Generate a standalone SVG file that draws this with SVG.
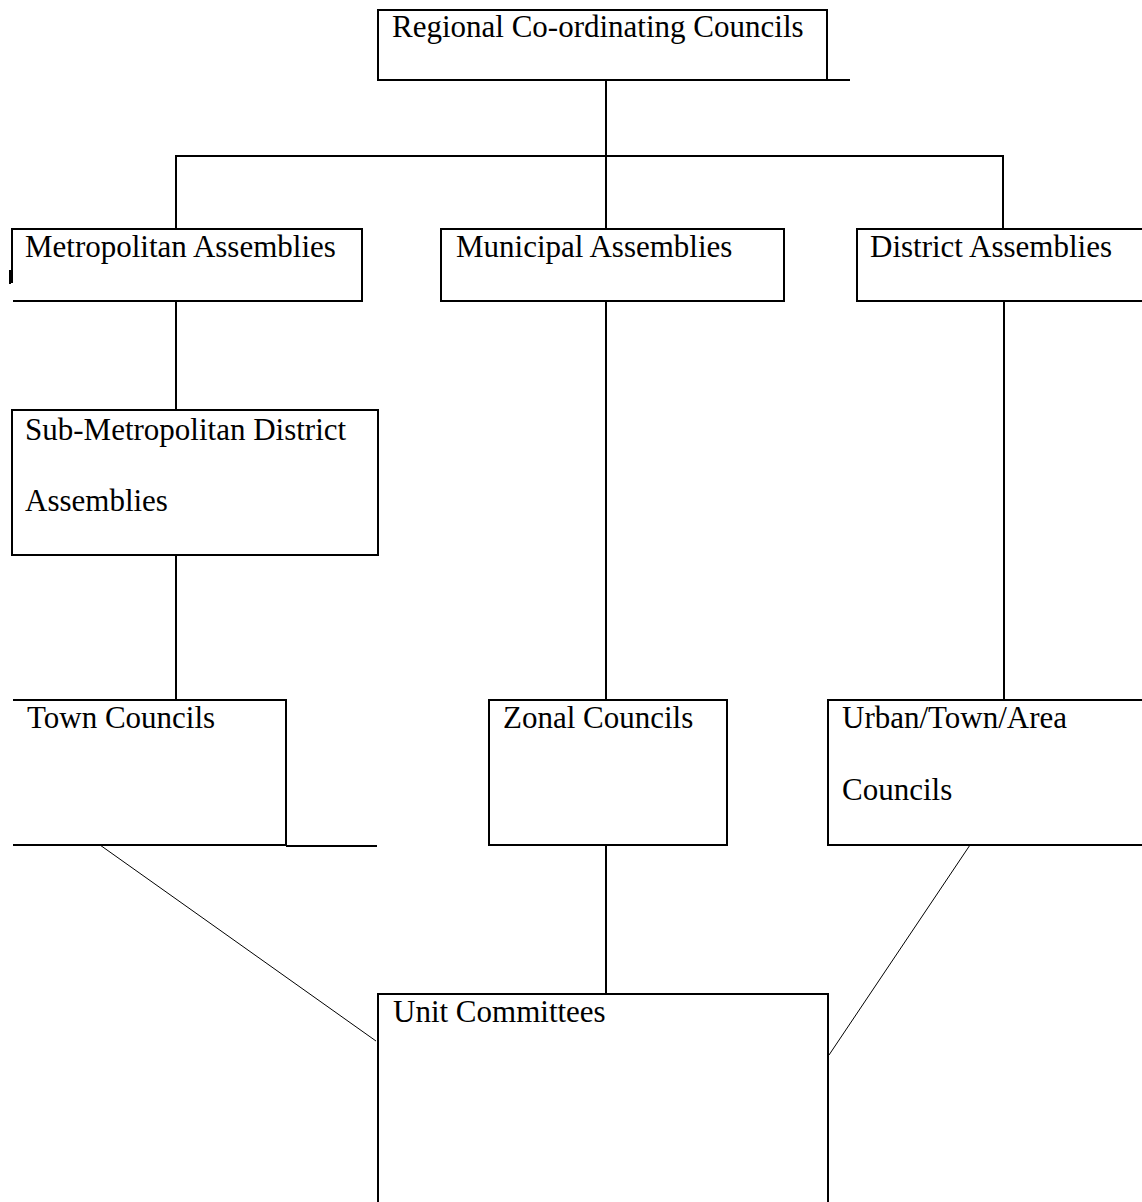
<svg xmlns="http://www.w3.org/2000/svg" width="1142" height="1202" viewBox="0 0 1142 1202">
<style>
.b{fill:none;stroke:#000;stroke-width:2}
.c{fill:none;stroke:#000;stroke-width:2}
.d{fill:none;stroke:#000;stroke-width:1}
text{font-family:"Liberation Serif","Times New Roman",serif;font-size:31px;fill:#000}
</style>
<rect width="1142" height="1202" fill="#fff"/>
<g id="connectors">
<line class="c" x1="606" y1="81" x2="606" y2="156"/>
<line class="c" x1="175" y1="156" x2="1004" y2="156"/>
<line class="c" x1="176" y1="155" x2="176" y2="229"/>
<line class="c" x1="606" y1="156" x2="606" y2="229"/>
<line class="c" x1="1003" y1="155" x2="1003" y2="229"/>
<line class="c" x1="176" y1="301" x2="176" y2="410"/>
<line class="c" x1="176" y1="555" x2="176" y2="700"/>
<line class="c" x1="606" y1="301" x2="606" y2="700"/>
<line class="c" x1="1004" y1="301" x2="1004" y2="700"/>
<line class="c" x1="606" y1="845" x2="606" y2="994"/>
<line class="d" x1="100" y1="845" x2="376" y2="1041"/>
<line class="d" x1="970" y1="845" x2="829" y2="1055"/>
</g>
<g id="regional">
<path class="b" d="M378 10 H827 V80 H378 Z M827 80 H850"/>
<text x="392" y="37">Regional Co-ordinating Councils</text>
</g>
<g id="metropolitan">
<path class="b" d="M12 283 V229 H362 V301 H13 M10 270 V284"/>
<text x="25" y="257">Metropolitan Assemblies</text>
</g>
<g id="municipal">
<rect class="b" x="441" y="229" width="343" height="72"/>
<text x="456" y="257">Municipal Assemblies</text>
</g>
<g id="district">
<path class="b" d="M1143 229 H857 V301 H1143"/>
<text x="870" y="257">District Assemblies</text>
</g>
<g id="sub-metropolitan">
<rect class="b" x="12" y="410" width="366" height="145"/>
<text x="25" y="440">Sub-Metropolitan District</text>
<text x="25" y="511">Assemblies</text>
</g>
<g id="town">
<path class="b" d="M13 700 H286 V845"/>
<path class="c" d="M13 845 H286" stroke-width="3"/>
<path class="b" d="M286 846 H377"/>
<text x="27" y="728">Town Councils</text>
</g>
<g id="zonal">
<rect class="b" x="489" y="700" width="238" height="145"/>
<text x="503" y="728">Zonal Councils</text>
</g>
<g id="urban">
<path class="b" d="M1143 700 H828 V845 H1143"/>
<text x="842" y="728">Urban/Town/Area</text>
<text x="842" y="800">Councils</text>
</g>
<g id="unit">
<path class="b" d="M378 1203 V994 H828 V1203"/>
<text x="393" y="1022">Unit Committees</text>
</g>
</svg>
